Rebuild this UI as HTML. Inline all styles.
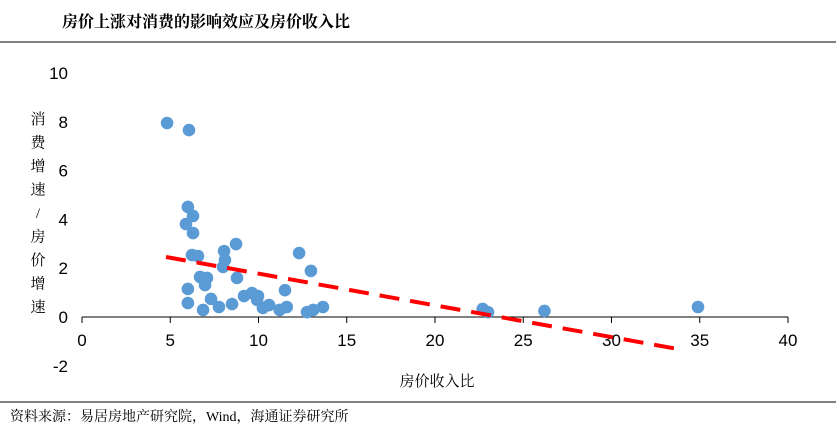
<!DOCTYPE html>
<html><head><meta charset="utf-8"><style>
body{margin:0;background:#fff;width:836px;height:429px;overflow:hidden;font-family:"Liberation Sans","Noto Sans CJK SC",sans-serif}
</style></head><body>
<svg width="836" height="429" xmlns="http://www.w3.org/2000/svg">
<text x="62" y="27" font-size="16" font-weight="bold" font-family="Liberation Serif,Noto Serif CJK SC,serif">房价上涨对消费的影响效应及房价收入比</text>
<line x1="0" y1="42" x2="836" y2="42" stroke="#000" stroke-width="1"/>
<g id="yt" font-size="15" font-family="Liberation Serif,Noto Serif CJK SC,serif" text-anchor="middle"></g>
<g id="axes"></g>
<g id="pts"></g>
<line id="trend" stroke="#ff0000" stroke-width="4" stroke-dasharray="20,11"/>
<text x="437" y="386" font-size="15" text-anchor="middle" font-family="Liberation Serif,Noto Serif CJK SC,serif">房价收入比</text>
<line x1="0" y1="402" x2="836" y2="402" stroke="#000" stroke-width="1"/>
<text x="10" y="421" font-size="14" font-family="Liberation Serif,Noto Serif CJK SC,serif">资料来源：易居房地产研究院，Wind，海通证券研究所</text>
</svg>
<script>
const xTicks=[0,5,10,15,20,25,30,35,40];
const yTicks=[-2,0,2,4,6,8,10];
const xs=[4.82,6.06,6.0,6.29,5.89,6.29,6.23,6.57,8.73,8.05,8.1,7.99,6.69,7.08,6.97,8.78,12.3,12.97,6.0,11.5,6.0,7.31,6.86,7.76,8.5,9.18,9.63,9.97,9.92,10.25,10.6,11.2,11.6,12.75,13.1,13.65,22.7,23.0,26.2,34.9];
const ys=[7.95,7.66,4.51,4.14,3.81,3.44,2.54,2.5,2.99,2.7,2.34,2.05,1.64,1.6,1.31,1.6,2.62,1.89,1.15,1.1,0.57,0.74,0.29,0.41,0.53,0.86,0.98,0.86,0.7,0.37,0.49,0.29,0.41,0.2,0.29,0.41,0.33,0.2,0.25,0.41];
const trendX=[4.76,34.05];
const trendY=[2.46,-1.35];
const NS="http://www.w3.org/2000/svg";
const X=v=>82+v*17.65, Y=v=>317-v*24.4;
const axes=document.getElementById('axes');
function mk(tag,attrs,parent){const e=document.createElementNS(NS,tag);for(const k in attrs)e.setAttribute(k,attrs[k]);parent.appendChild(e);return e;}
const ax=mk('line',{x1:X(0),y1:Y(0),x2:X(40),y2:Y(0),stroke:'#000','stroke-width':1},axes);


xTicks.forEach(t=>{
  const l=mk('line',{x1:X(t),y1:Y(0),x2:X(t),y2:Y(0)+6,stroke:'#000'},axes);
  
  
  const tx=mk('text',{x:X(t),y:Y(0)+29,'font-size':17,'text-anchor':'middle'},axes);
  tx.textContent=t;
  
  
});
yTicks.forEach(t=>{
  const tx=mk('text',{x:68,y:Y(t)+6,'font-size':17,'text-anchor':'end'},axes);
  tx.textContent=t;
  
  
});
const yt=document.getElementById('yt');
"消费增速/房价增速".split('').forEach((c,i)=>{
  const tx=mk('text',{x:38,y:124+i*23.5},yt);
  tx.textContent=c;
});
const pts=document.getElementById('pts');
xs.forEach((x,i)=>{
  const c=mk('circle',{cx:X(x),cy:Y(ys[i]),r:6.3,fill:'#5b9bd5'},pts);
  
  
});
const tr=document.getElementById('trend');
tr.setAttribute('x1',X(trendX[0]));tr.setAttribute('y1',Y(trendY[0]));
tr.setAttribute('x2',X(trendX[1]));tr.setAttribute('y2',Y(trendY[1]));
</script>
</body></html>
